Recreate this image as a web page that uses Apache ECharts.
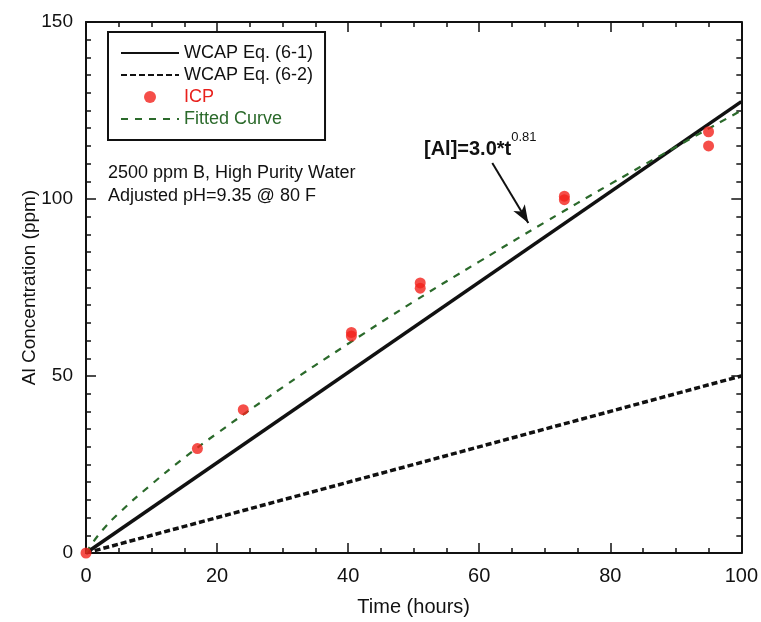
<!DOCTYPE html>
<html><head><meta charset="utf-8">
<script src="https://cdn.jsdelivr.net/npm/echarts@6/dist/echarts.min.js"></script>
<style>html,body{margin:0;padding:0;background:#fff}#c{width:761px;height:622px}</style>
</head><body><div id="c"></div>
<script>
// ---- data ----
const wcap1X = [0, 100];
const wcap1Y = [0, 127.5];
const wcap2X = [0, 100];
const wcap2Y = [0, 50];
const icpX = [0, 17, 24, 40.5, 40.5, 51, 51, 73, 73, 95, 95];
const icpY = [0, 29.5, 40.5, 61.3, 62.3, 74.8, 76.3, 99.8, 100.8, 119, 115];
const fitX = [0, 2, 5, 10, 15, 20, 30, 40, 50, 60, 70, 80, 90, 100];
const fitY = [0, 5.3, 11.2, 19.4, 26.9, 33.8, 46.8, 59.1, 71, 82.3, 93.4, 104.2, 114.7, 125];
const xTicks = [0, 20, 40, 60, 80, 100];
const yTicks = [0, 50, 100, 150];
const arrowFrom = [62, 110.2];
const arrowTo = [67.5, 93.2];

const pairs = (xs, ys) => xs.map((x, i) => [x, ys[i]]);
const font = '"Liberation Sans", Arial, sans-serif';
const chart = echarts.init(document.getElementById('c'));

const axisCommon = {
  axisLine: { show: true, onZero: false, lineStyle: { color: '#111', width: 2 } },
  axisTick: { show: true, inside: true, length: 10, lineStyle: { color: '#111', width: 1.5 } },
  minorTick: { show: true, splitNumber: 4, length: 5, lineStyle: { color: '#111', width: 1.5 } },
  splitLine: { show: false }
};

chart.setOption({
  backgroundColor: '#fff',
  animation: false,
  grid: { left: 86, right: 19, top: 22, bottom: 69 },
  xAxis: [
    Object.assign({}, axisCommon, {
      type: 'value', min: xTicks[0], max: xTicks[xTicks.length - 1], interval: 20,
      name: 'Time (hours)', nameLocation: 'middle', nameGap: 44, nameMoveOverlap: false,
      nameTextStyle: { fontFamily: font, fontSize: 20, color: '#111' },
      axisLabel: { margin: 13, fontFamily: font, fontSize: 20, color: '#111' }
    }),
    Object.assign({}, axisCommon, {
      type: 'value', position: 'top', min: 0, max: 100, interval: 20,
      axisLabel: { show: false }
    })
  ],
  yAxis: [
    Object.assign({}, axisCommon, {
      type: 'value', min: yTicks[0], max: yTicks[yTicks.length - 1], interval: 50,
      minorTick: Object.assign({}, axisCommon.minorTick, { splitNumber: 10 }),
      name: 'Al Concentration (ppm)', nameLocation: 'middle', nameGap: 47, nameMoveOverlap: false,
      nameTextStyle: { fontFamily: font, fontSize: 19, color: '#111' },
      axisLabel: { margin: 13, fontFamily: font, fontSize: 19, color: '#111' }
    }),
    Object.assign({}, axisCommon, {
      type: 'value', position: 'right', min: 0, max: 150, interval: 50,
      minorTick: Object.assign({}, axisCommon.minorTick, { splitNumber: 10 }),
      axisLabel: { show: false }
    })
  ],
  legend: {
    orient: 'vertical', left: 108, top: 32,
    padding: [12, 12, 12, 12],
    borderColor: '#111', borderWidth: 2,
    itemWidth: 58, itemHeight: 12, itemGap: 4,
    textStyle: { fontFamily: font, fontSize: 18, color: '#111' },
    data: [
      { name: 'WCAP Eq. (6-1)', itemStyle: { opacity: 0 } },
      { name: 'WCAP Eq. (6-2)', itemStyle: { opacity: 0 } },
      { name: 'ICP', textStyle: { color: '#e8201c' } },
      { name: 'Fitted Curve', itemStyle: { opacity: 0 }, textStyle: { color: '#2b6a2b' } }
    ]
  },
  graphic: [
    { type: 'text', left: 108, top: 164, style: { text: '2500 ppm B, High Purity Water', font: '18px ' + font, fill: '#111' } },
    { type: 'text', left: 108, top: 187, style: { text: 'Adjusted pH=9.35 @ 80 F', font: '18px ' + font, fill: '#111' } },
    { type: 'text', left: 424, top: 131, style: {
        text: '{a|[Al]=3.0*t}{b|0.81}',
        rich: {
          a: { fontFamily: font, fontSize: 20, fontWeight: 'bold', fill: '#111', color: '#111', verticalAlign: 'bottom', lineHeight: 28 },
          b: { fontFamily: font, fontSize: 13, fill: '#111', color: '#111', verticalAlign: 'top', lineHeight: 28, padding: [0, 0, 13, 0] }
        }
      } }
  ],
  series: [
    {
      name: 'WCAP Eq. (6-1)', type: 'line', data: pairs(wcap1X, wcap1Y), showSymbol: false, symbol: 'none',
      lineStyle: { color: '#111', width: 3.5 }, itemStyle: { color: '#111' }, z: 3
    },
    {
      name: 'WCAP Eq. (6-2)', type: 'line', data: pairs(wcap2X, wcap2Y), showSymbol: false, symbol: 'none',
      lineStyle: { color: '#111', width: 3.5, type: [6, 3] }, itemStyle: { color: '#111' }, z: 3
    },
    {
      name: 'ICP', type: 'scatter', data: pairs(icpX, icpY), symbol: 'circle', symbolSize: 11,
      itemStyle: { color: '#f2221c' }, z: 5
    },
    {
      name: 'Fitted Curve', type: 'line', data: pairs(fitX, fitY), smooth: true, showSymbol: false, symbol: 'none',
      lineStyle: { color: '#2b6a2b', width: 2.2, type: [7, 7] }, itemStyle: { color: '#2b6a2b' }, z: 4,
      markLine: {
        silent: true, symbol: ['none', 'arrow'], symbolSize: [10, 18],
        lineStyle: { color: '#111', width: 2, type: 'solid' },
        label: { show: false },
        data: [[{ coord: arrowFrom }, { coord: arrowTo }]]
      }
    }
  ]
});
</script></body></html>
